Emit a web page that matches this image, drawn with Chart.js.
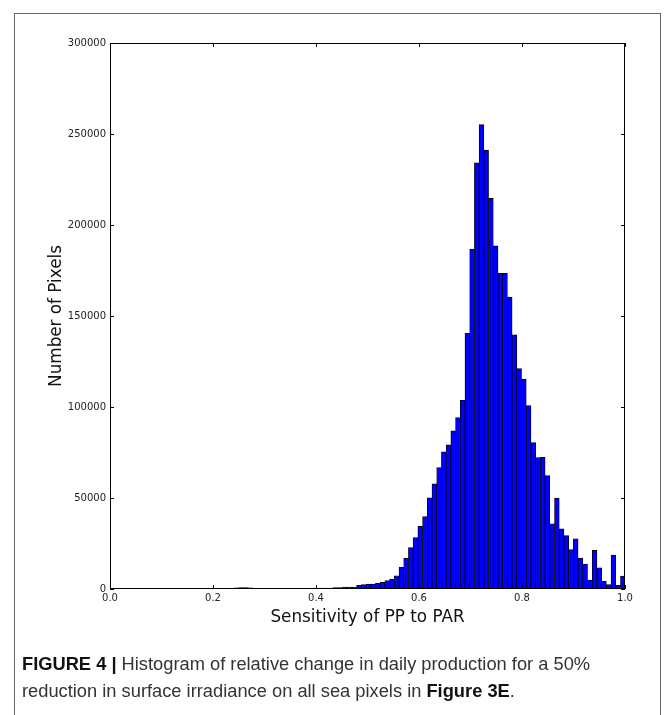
<!DOCTYPE html>
<html>
<head>
<meta charset="utf-8">
<script src="https://cdn.jsdelivr.net/npm/chart.js@4.4.1/dist/chart.umd.min.js"></script>
<style>
  html, body { margin: 0; padding: 0; background: #fff; }
  #wrap { position: relative; width: 669px; height: 715px; overflow: hidden; }
  #frame {
    position: absolute; left: 14px; top: 13px; width: 647px; height: 760px;
    border: 1px solid #666; box-sizing: border-box;
  }
  #chart { position: absolute; left: 0; top: 0; }
  #caption {
    position: absolute; left: 22px; top: 650px; width: 630px;
    font-family: "Liberation Sans", Arial, sans-serif;
    font-size: 18.3px; line-height: 27px; color: #333;
  }
  #caption b { color: #111; }
</style>
</head>
<body>
<div id="wrap">
  <div id="frame"></div>
  <canvas id="chart" width="669" height="715"></canvas>
  <div id="caption">
    <b>FIGURE 4 |</b> Histogram of relative change in daily production for a 50%
    reduction in surface irradiance on all sea pixels in <b>Figure 3E</b>.
  </div>
</div>
<script>
const BLUE = "#0000ff";
const INK = "#222";

/* Histogram bins: 100 equal bins between the lowest and highest value */
const BIN_START = 0.0854;
const BIN_WIDTH = 0.00915;

/* Pixel counts per bin */
const COUNTS = [
  400, 0, 0, 0, 0, 0, 0, 100, 0, 400,
  400, 400, 300, 150, 150, 200, 200, 700, 800, 800,
  600, 200, 200, 150, 150, 150, 200, 200, 200, 200,
  250, 400, 400, 400, 450, 450, 500, 500, 800, 800,
  1100, 1100, 1100, 2000, 2400, 2700, 2700, 3100, 3600, 4600,
  5500, 7300, 11900, 16800, 22800, 28200, 34400, 39800, 50100, 57800,
  66700, 75400, 79200, 86900, 94200, 103700, 140500, 186600, 234100, 255200,
  241100, 214600, 188600, 173400, 173400, 160400, 139600, 121100, 115400, 100800,
  80500, 72200, 72300, 62300, 35800, 49900, 33100, 29400, 21600, 27600,
  17000, 13700, 4900, 21200, 11700, 4200, 2400, 18700, 2000, 7100,
];

const X_TICKS = [0.0, 0.2, 0.4, 0.6, 0.8, 1.0];
const Y_TICKS = [0, 50000, 100000, 150000, 200000, 250000, 300000];

const points = COUNTS.map((c, i) => ({ x: BIN_START + (i + 0.5) * BIN_WIDTH, y: c }));

/* matplotlib-style box: spines on all four sides, ticks pointing inward */
const boxTicks = {
  id: "boxTicks",
  afterDatasetsDraw(chart) {
    const { ctx, chartArea: a, scales: { x, y } } = chart;
    const len = 4;
    ctx.save();
    ctx.strokeStyle = "#000";
    ctx.lineWidth = 1;
    ctx.strokeRect(Math.round(a.left) + 0.5, Math.round(a.top) + 0.5,
      Math.round(a.width) - 1, Math.round(a.height) - 1);
    ctx.beginPath();
    for (const v of X_TICKS) {
      const px = Math.round(x.getPixelForValue(v)) + 0.5;
      ctx.moveTo(px, a.bottom); ctx.lineTo(px, a.bottom - len);
      ctx.moveTo(px, a.top); ctx.lineTo(px, a.top + len);
    }
    for (const v of Y_TICKS) {
      const py = Math.round(y.getPixelForValue(v)) + 0.5;
      ctx.moveTo(a.left, py); ctx.lineTo(a.left + len, py);
      ctx.moveTo(a.right, py); ctx.lineTo(a.right - len, py);
    }
    ctx.stroke();
    ctx.restore();
  },
};

const tickFont = { family: '"DejaVu Sans", sans-serif', size: 10 };
const titleFont = { family: '"DejaVu Sans", sans-serif', size: 16.8 };

new Chart(document.getElementById("chart"), {
  type: "bar",
  data: {
    datasets: [{
      data: points,
      backgroundColor: BLUE,
      borderColor: "#000",
      borderWidth: 0.8,
      borderSkipped: false,
      barPercentage: 1,
      categoryPercentage: 1,
    }],
  },
  options: {
    responsive: false,
    animation: false,
    events: [],
    layout: { padding: { left: 43, top: 43, right: 44, bottom: 83 } },
    plugins: { legend: { display: false }, tooltip: { enabled: false } },
    scales: {
      x: {
        type: "linear",
        min: 0,
        max: 1,
        offset: false,
        grid: { display: false, drawTicks: false, offset: false },
        border: { display: false },
        afterBuildTicks: (s) => { s.ticks = X_TICKS.map((v) => ({ value: v })); },
        ticks: { font: tickFont, color: INK, padding: 3, maxRotation: 0,
          callback: (v) => Number(v).toFixed(1) },
        title: { display: true, text: "Sensitivity of PP to PAR", font: titleFont, color: "#111",
          padding: { top: 4, bottom: 4 } },
        afterFit: (s) => { s.height = 43; },
      },
      y: {
        min: 0,
        max: 300000,
        grid: { display: false, drawTicks: false },
        border: { display: false },
        afterBuildTicks: (s) => { s.ticks = Y_TICKS.map((v) => ({ value: v })); },
        ticks: { font: tickFont, color: INK, padding: 4, callback: (v) => String(v) },
        title: { display: true, text: "Number of Pixels", font: titleFont, color: "#111",
          padding: { top: 4, bottom: 4 } },
        afterFit: (s) => { s.width = 67; },
      },
    },
  },
  plugins: [boxTicks],
});
</script>
</body>
</html>
